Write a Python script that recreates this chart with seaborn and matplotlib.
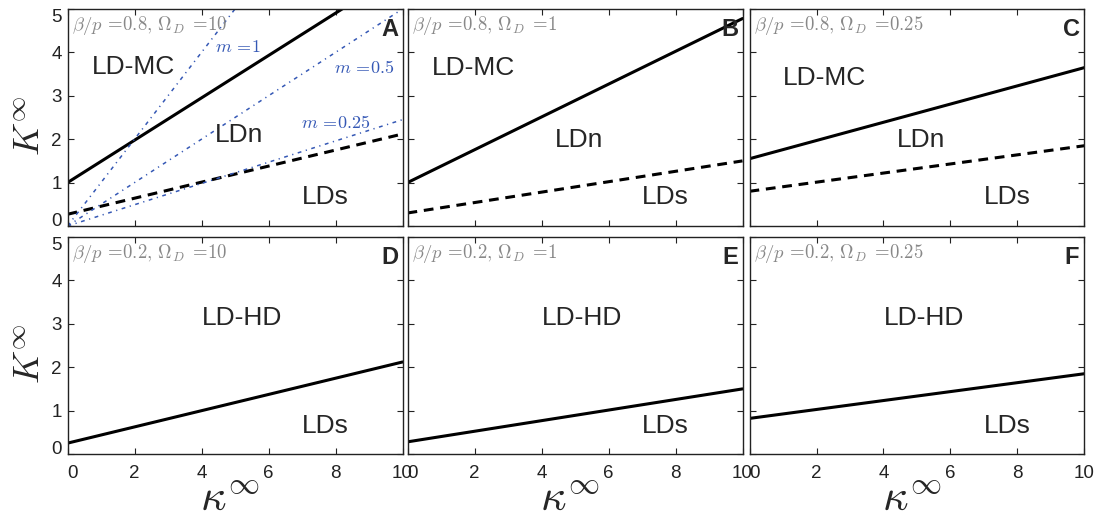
import matplotlib
matplotlib.use("Agg")
import matplotlib.pyplot as plt
import seaborn as sns
import numpy as np

sns.set_style("ticks")
plt.rcParams['font.family'] = ['Liberation Sans', 'DejaVu Sans']
plt.rcParams['mathtext.fontset'] = 'cm'

# ---- data ----
kappa = [0, 10]
# solid boundary (upper transition) per panel, K at kappa=0 and kappa=10
solid_A = [1.0, 5.88]
solid_B = [1.0, 4.78]
solid_C = [1.55, 3.65]
solid_D = [0.25, 2.12]
solid_E = [0.28, 1.50]
solid_F = [0.82, 1.85]
# dashed boundary (LDn / LDs) in top row
dashed_A = [0.27, 2.12]
dashed_B = [0.30, 1.50]
dashed_C = [0.80, 1.85]
# blue dash-dot guide lines in panel A
m_values = ["1", "0.5", "0.25"]
m_lines = [[0.0, 10.0], [0.0, 5.0], [0.0, 2.45]]

panel_letters = ["A", "B", "C", "D", "E", "F"]
titles = [r"$\beta/p\,=\!0.8,\,\Omega_D\;=\!10$", r"$\beta/p\,=\!0.8,\,\Omega_D\;=\!1$",
          r"$\beta/p\,=\!0.8,\,\Omega_D\;=\!0.25$", r"$\beta/p\,=\!0.2,\,\Omega_D\;=\!10$",
          r"$\beta/p\,=\!0.2,\,\Omega_D\;=\!1$", r"$\beta/p\,=\!0.2,\,\Omega_D\;=\!0.25$"]
solids = [solid_A, solid_B, solid_C, solid_D, solid_E, solid_F]
dasheds = [dashed_A, dashed_B, dashed_C, None, None, None]
xticks = [0, 2, 4, 6, 8, 10]
yticks = [0, 1, 2, 3, 4, 5]

# ---- layout ----
W, H = 1096, 517
fig = plt.figure(figsize=(W / 100, H / 100), dpi=100)
col_left = [67.5, 407.5, 749.5]
col_w = 335
row_top = [9, 237]
row_h = 217

blue = "#3558b5"
for i in range(6):
    r, c = divmod(i, 3)
    ax = fig.add_axes([col_left[c] / W, (H - row_top[r] - row_h) / H, col_w / W, row_h / H])
    sns.lineplot(x=kappa, y=solids[i], ax=ax, color="black", lw=2.2)
    if dasheds[i] is not None:
        sns.lineplot(x=kappa, y=dasheds[i], ax=ax, color="black", lw=2.2,
                     linestyle=(0, (3.2, 2.2)))
    if i == 0:
        for mv, ml in zip(m_values, m_lines):
            sns.lineplot(x=kappa, y=ml, ax=ax, color=blue, lw=1.1,
                         linestyle=(0, (2.5, 3, 0.8, 3)))
        ax.text(5.1, 4.12, r"$m\,=\!1$", color=blue, fontsize=13, ha="center", va="center")
        ax.text(8.85, 3.64, r"$m\,=\!0.5$", color=blue, fontsize=13, ha="center", va="center")
        ax.text(8.0, 2.37, r"$m\,=\!0.25$", color=blue, fontsize=13, ha="center", va="center")
    ax.set_xlim(0, 10)
    ax.set_ylim(0, 5)
    ax.set_xticks(xticks)
    ax.set_yticks(yticks)
    ax.tick_params(direction="in", top=True, right=True, length=4, width=0.8,
                   labelsize=13.5, colors="#222222")
    ax.tick_params(axis="x", pad=8)
    ax.tick_params(axis="y", pad=4)
    if c != 0:
        ax.set_yticklabels([])
    else:
        ax.set_yticklabels([str(v) for v in yticks])
        ylabs = ax.get_yticklabels()
        ylabs[0].set_verticalalignment("baseline")
        ylabs[-1].set_verticalalignment("top")
    if r != 1:
        ax.set_xticklabels([])
    else:
        ax.set_xticklabels([str(v) for v in xticks])
        ax.get_xticklabels()[0].set_horizontalalignment("left")
    for s in ax.spines.values():
        s.set_linewidth(1.0)
        s.set_color("#222222")
    ax.text(0.12, 4.62, titles[i], color="#888888", fontsize=13.5, ha="left", va="center")
    ax.text(9.62, 4.52, panel_letters[i], fontsize=17, fontweight="bold", ha="center", va="center")
    if r == 0:
        mc_pos = [(1.96, 3.66), (1.96, 3.64), (2.25, 3.41)][c]
        ax.text(*mc_pos, "LD-MC", fontsize=19, ha="center", va="center")
        ax.text(5.12, 2.1 if c == 0 else 1.98, "LDn", fontsize=19, ha="center", va="center")
        ax.text(7.7, 0.67, "LDs", fontsize=19, ha="center", va="center")
    else:
        ax.text(5.2, 3.14, "LD-HD", fontsize=19, ha="center", va="center")
        ax.text(7.7, 0.64, "LDs", fontsize=19, ha="center", va="center")
    ax.set_xlabel("")
    ax.set_ylabel("")
    if c == 0:
        ax.set_ylabel(r"$K^{\infty}$", fontsize=26)
        ax.yaxis.set_label_coords(-0.062, 0.46)
    if r == 1:
        ax.set_xlabel(r"$\kappa^{\infty}$", fontsize=32)
        ax.xaxis.label.set_verticalalignment("bottom")
        ax.xaxis.set_label_coords(0.485, -0.30)

fig.savefig("out.png", dpi=100)
